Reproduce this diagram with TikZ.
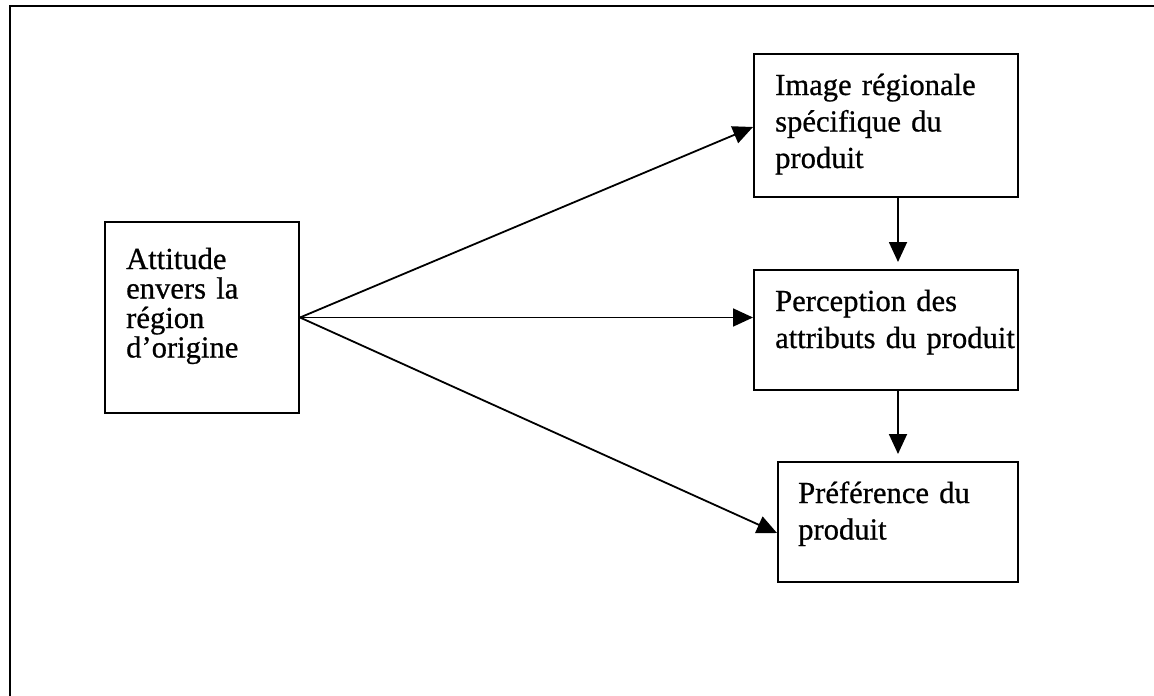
\documentclass[tikz,border=0pt]{standalone}
\usepackage{fontspec}
\setmainfont{Liberation Serif}[FakeBold=0.7]
\usetikzlibrary{arrows.meta}
\newcommand{\boxfont}[1]{\fontsize{30.6}{#1}\selectfont\addfontfeature{FakeBold=0.7}}
\begin{document}
\begin{tikzpicture}[x=1pt,y=-1pt,
  box/.style={draw, line width=2pt, inner sep=0pt},
  label/.style={anchor=base west, inner sep=0pt, text width=245pt, align=left},
  conn/.style={line width=1.8pt, -{Triangle[length=20pt,width=18pt]}}]
\useasboundingbox (0,0) rectangle (1154,696);
% page frame: only the top and left edges show
\draw[line width=2.8pt] (10,696) -- (10,6) -- (1154,6);

% boxes
\node[box, minimum width=194pt, minimum height=191pt] (att)  at (202,317.5) {};
\node[box, minimum width=264pt, minimum height=143pt] (img)  at (886,125.5) {};
\node[box, minimum width=264pt, minimum height=120pt] (perc) at (886,330) {};
\node[box, minimum width=240pt, minimum height=120pt] (pref) at (898,522) {};

% texts
\node[label, font=\boxfont{29.5}] (attT) at (126,269)
  {Attitude\\envers la\\région\\d’origine};
\node[label, font=\boxfont{36.5}] (imgT) at (775,95)
  {Image régionale\\spécifique du\\produit};
\node[label, font=\boxfont{37}] (percT) at (775,311)
  {Perception des\\attributs du produit};
\node[label, font=\boxfont{36.5}] (prefT) at (798,503)
  {Préférence du\\produit};

% connectors
\draw[conn] (att.east) -- ([yshift=-1.5pt]img.west);
\draw[conn] (att.east) -- (att.east -| perc.west);
\draw[conn] (att.east) -- ([yshift=-11pt]pref.west);
\draw[conn] (img.south -| pref.north) -- ([yshift=7pt]perc.north -| pref.north);
\draw[conn] (perc.south -| pref.north) -- ([yshift=7pt]pref.north);
\end{tikzpicture}
\end{document}
